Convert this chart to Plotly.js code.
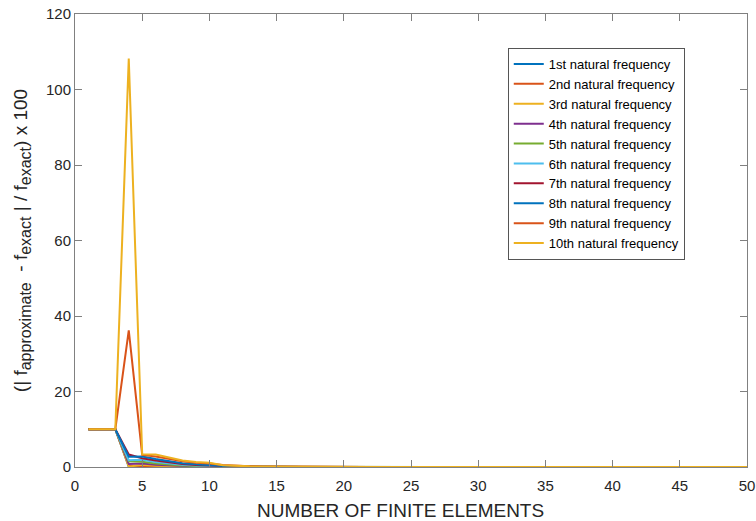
<!DOCTYPE html>
<html>
<head>
<meta charset="utf-8">
<script src="https://cdn.plot.ly/plotly-3.0.1.min.js"></script>
<style>html,body{margin:0;padding:0;background:#fff;}#chart{width:756px;height:521px;}</style>
</head>
<body>
<div id="chart"></div>
<script>
const elements = [1,2,3,4,5,6,7,8,9,10,11,12,13,14,15,16,17,18,19,20,21,22,23,24,25,26,27,28,29,30,31,32,33,34,35,36,37,38,39,40,41,42,43,44,45,46,47,48,49,50];

const seriesNames = ["1st natural frequency","2nd natural frequency","3rd natural frequency","4th natural frequency","5th natural frequency","6th natural frequency","7th natural frequency","8th natural frequency","9th natural frequency","10th natural frequency"];

const err1  = [10,10,10,0.05,0.02,0.01,0.01,0.01,0,0,0,0,0,0,0,0,0,0,0,0,0,0,0,0,0,0,0,0,0,0,0,0,0,0,0,0,0,0,0,0,0,0,0,0,0,0,0,0,0,0];
const err2  = [10,10,10,0.4,0.15,0.08,0.05,0.03,0.02,0.01,0.01,0,0,0,0,0,0,0,0,0,0,0,0,0,0,0,0,0,0,0,0,0,0,0,0,0,0,0,0,0,0,0,0,0,0,0,0,0,0,0];
const err3  = [10,10,10,0.1,0.6,0.35,0.2,0.12,0.08,0.05,0.03,0.02,0.01,0.01,0,0,0,0,0,0,0,0,0,0,0,0,0,0,0,0,0,0,0,0,0,0,0,0,0,0,0,0,0,0,0,0,0,0,0,0];
const err4  = [10,10,10,0.8,0.9,0.6,0.4,0.25,0.15,0.1,0.06,0.04,0.03,0.02,0.01,0.01,0,0,0,0,0,0,0,0,0,0,0,0,0,0,0,0,0,0,0,0,0,0,0,0,0,0,0,0,0,0,0,0,0,0];
const err5  = [10,10,10,1.5,1.4,0.9,0.6,0.4,0.25,0.15,0.1,0.07,0.05,0.03,0.02,0.01,0.01,0,0,0,0,0,0,0,0,0,0,0,0,0,0,0,0,0,0,0,0,0,0,0,0,0,0,0,0,0,0,0,0,0];
const err6  = [10,10,10,1.8,1.9,1.3,0.9,0.6,0.4,0.25,0.15,0.1,0.07,0.05,0.03,0.02,0.01,0.01,0,0,0,0,0,0,0,0,0,0,0,0,0,0,0,0,0,0,0,0,0,0,0,0,0,0,0,0,0,0,0,0];
const err7  = [10,10,10,3.3,2.3,1.7,1.2,0.8,0.5,0.35,0.2,0.14,0.1,0.07,0.05,0.03,0.02,0.02,0.01,0.01,0,0,0,0,0,0,0,0,0,0,0,0,0,0,0,0,0,0,0,0,0,0,0,0,0,0,0,0,0,0];
const err8  = [10,10,10,2.7,2.8,2.1,1.5,1.0,0.7,0.45,0.28,0.18,0.12,0.08,0.06,0.04,0.03,0.02,0.01,0.01,0.01,0,0,0,0,0,0,0,0,0,0,0,0,0,0,0,0,0,0,0,0,0,0,0,0,0,0,0,0,0];
const err9  = [10,10,10,36.2,3.2,2.8,2.1,1.5,1.1,0.9,0.5,0.3,0.2,0.14,0.1,0.07,0.05,0.04,0.03,0.02,0.02,0.01,0.01,0.01,0,0,0,0,0,0,0,0,0,0,0,0,0,0,0,0,0,0,0,0,0,0,0,0,0,0];
const err10 = [10,10,10,108.2,3.4,3.3,2.4,1.7,1.3,1.1,0.45,0.25,0.17,0.12,0.09,0.07,0.05,0.04,0.03,0.03,0.02,0.02,0.01,0.01,0.01,0.01,0,0,0,0,0,0,0,0,0,0,0,0,0,0,0,0,0,0,0,0,0,0,0,0];

const allSeries = [err1,err2,err3,err4,err5,err6,err7,err8,err9,err10];
const colors = ["#0072BD","#D95319","#EDB120","#7E2F8E","#77AC30","#4DBEEE","#A2142F","#0072BD","#D95319","#EDB120"];

const xTicks = [0,5,10,15,20,25,30,35,40,45,50];
const yTicks = [0,20,40,60,80,100,120];

const traces = allSeries.map((s,i)=>({
  x: elements, y: s, type: 'scatter', mode: 'lines',
  name: seriesNames[i],
  line: {color: colors[i], width: 2}
}));

const textCol = '#262626';
const lineCol = '#808080';
const sub = t => '<sub><span style="font-size:16px">' + t + '</span></sub>';
const layout = {
  width: 756, height: 521,
  margin: {l: 75, r: 9, t: 14, b: 54},
  paper_bgcolor: '#fff', plot_bgcolor: '#fff',
  font: {family: 'Liberation Sans, Arial, sans-serif', color: textCol, size: 15},
  showlegend: true,
  legend: {
    x: 0.644, y: 0.925, xanchor: 'left', yanchor: 'top',
    bgcolor: '#fff', bordercolor: '#555', borderwidth: 1,
    font: {size: 13, color: '#000'},
    tracegroupgap: 0, itemwidth: 30
  },
  xaxis: {
    range: [0, 50], tickvals: xTicks, ticktext: xTicks.map(String),
    ticks: 'inside', ticklen: 7, tickcolor: lineCol, tickwidth: 1,
    showline: true, linecolor: lineCol, linewidth: 1, mirror: 'ticks',
    showgrid: false, zeroline: false,
    ticklabelstandoff: 5,
    tickfont: {size: 15, color: textCol}
  },
  yaxis: {
    range: [0, 120], tickvals: yTicks, ticktext: yTicks.map(String),
    ticks: 'inside', ticklen: 7, tickcolor: lineCol, tickwidth: 1,
    showline: true, linecolor: lineCol, linewidth: 1, mirror: 'ticks',
    showgrid: false, zeroline: false,
    tickfont: {size: 15, color: textCol},
    title: {text: '(| f' + sub('approximate') + '  - f' + sub('exact') + ' | / f' + sub('exact') + ') x 100', font: {size: 19, color: textCol}, standoff: 13}
  },
  annotations: [{
    text: 'NUMBER OF FINITE ELEMENTS',
    xref: 'paper', yref: 'paper', x: 0.5, y: 0, xanchor: 'center', yanchor: 'top',
    xshift: -11, yshift: -31, showarrow: false,
    font: {size: 19, color: textCol}
  }]
};

Plotly.newPlot('chart', traces, layout, {displayModeBar: false, staticPlot: true});
</script>
</body>
</html>
